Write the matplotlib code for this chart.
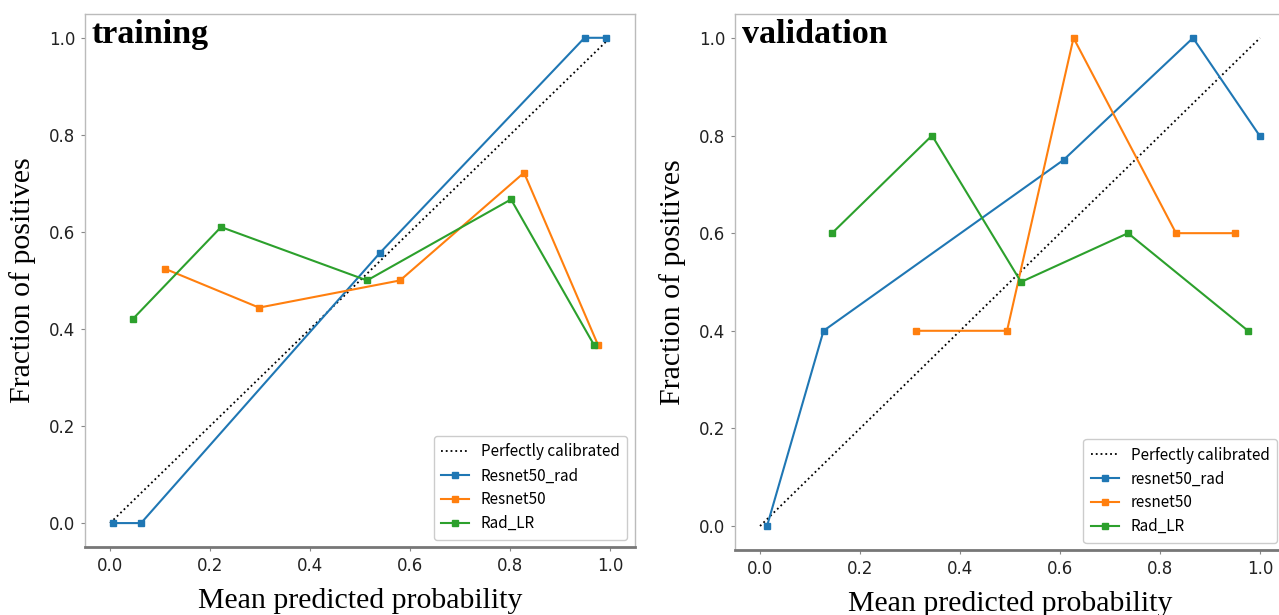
import numpy as np
import matplotlib
matplotlib.use('Agg')
import matplotlib.pyplot as plt

# training curves
train_rad_x = [0.006, 0.062, 0.540, 0.949, 0.992]
train_rad_y = [0.0, 0.0, 0.557, 1.0, 1.0]
train_res_x = [0.110, 0.298, 0.580, 0.828, 0.976]
train_res_y = [0.524, 0.444, 0.500, 0.722, 0.367]
train_lr_x = [0.046, 0.222, 0.514, 0.802, 0.968]
train_lr_y = [0.421, 0.610, 0.500, 0.667, 0.367]

# validation curves
val_rad_x = [0.014, 0.127, 0.607, 0.866, 0.999]
val_rad_y = [0.0, 0.4, 0.75, 1.0, 0.8]
val_res_x = [0.311, 0.494, 0.627, 0.832, 0.950]
val_res_y = [0.4, 0.4, 1.0, 0.6, 0.6]
val_lr_x = [0.144, 0.344, 0.522, 0.736, 0.976]
val_lr_y = [0.6, 0.8, 0.5, 0.6, 0.4]

panels = [
    ('training', ['Resnet50_rad', 'Resnet50', 'Rad_LR'],
     [(train_rad_x, train_rad_y), (train_res_x, train_res_y), (train_lr_x, train_lr_y)]),
    ('validation', ['resnet50_rad', 'resnet50', 'Rad_LR'],
     [(val_rad_x, val_rad_y), (val_res_x, val_res_y), (val_lr_x, val_lr_y)]),
]
colors = ['#1f77b4', '#ff7f0e', '#2ca02c']

tick_font = ['Liberation Sans Narrow', 'DejaVu Sans']
serif = ['Liberation Serif', 'DejaVu Serif']
legend_font = ['Noto Sans CJK SC', 'DejaVu Sans']

fig = plt.figure(figsize=(12.79, 6.15), dpi=100)
positions = [[0.0665, 0.110, 0.430, 0.868], [0.5747, 0.105, 0.430, 0.873]]

for pos, (title, names, series) in zip(positions, panels):
    ax = fig.add_axes(pos)
    ax.plot([0, 1], [0, 1], 'k:', lw=1.3, label='Perfectly calibrated')
    for (x, y), name, c in zip(series, names, colors):
        ax.plot(x, y, 's-', color=c, lw=1.5, ms=5, label=name)
    ax.set_xlim(-0.05, 1.05)
    ax.set_ylim(-0.05, 1.05)
    ax.set_xticks(np.arange(0, 1.01, 0.2))
    ax.set_yticks(np.arange(0, 1.01, 0.2))
    for lab in ax.get_xticklabels() + ax.get_yticklabels():
        lab.set_family(tick_font)
        lab.set_fontsize(12)
        lab.set_color('#222222')
    ax.tick_params(length=3, color='#888888', pad=4)
    for s in ['top', 'right', 'left']:
        ax.spines[s].set_color('#bbbbbb')
        ax.spines[s].set_linewidth(1.0)
    ax.spines['bottom'].set_color('#777777')
    ax.spines['bottom'].set_linewidth(2.0)
    ax.set_xlabel('Mean predicted probability', family=serif, fontsize=21.5, labelpad=9)
    ax.set_ylabel('Fraction of positives', family=serif, fontsize=21.5, labelpad=9)
    ax.text(0.012, 0.99, title, transform=ax.transAxes, family=serif,
            fontsize=24.5, fontweight='bold', va='top', ha='left')
    leg = ax.legend(loc='lower right', prop={'family': legend_font, 'size': 11},
                    labelspacing=0.45, handlelength=1.8, borderpad=0.5, fancybox=True,
                    framealpha=1.0)
    leg.get_frame().set_edgecolor('#cccccc')

fig.savefig('out.png', dpi=100)
